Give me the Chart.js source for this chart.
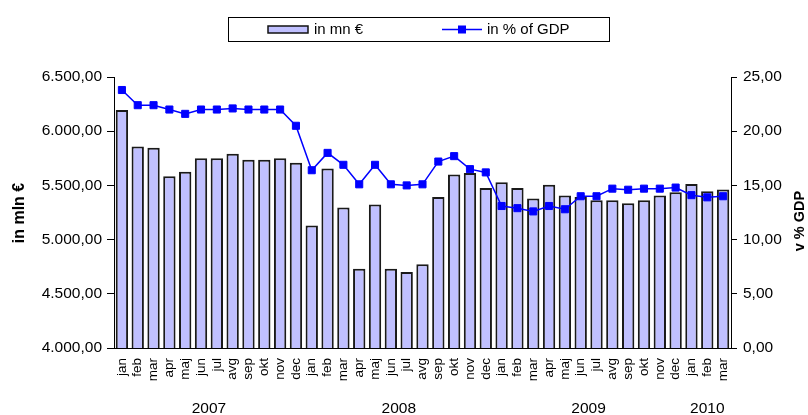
<!DOCTYPE html>
<html>
<head>
<meta charset="utf-8">
<script src="https://cdn.jsdelivr.net/npm/chart.js@4"></script>
<style>
  html, body { margin: 0; padding: 0; background: #fff; }
  canvas { display: block; }
</style>
</head>
<body>
<canvas id="debt" width="808" height="415"></canvas>
<script>
// Months (Slovenian abbreviations), Jan 2007 – Mar 2010
const monthLabels = [
  'jan','feb','mar','apr','maj','jun','jul','avg','sep','okt','nov','dec',
  'jan','feb','mar','apr','maj','jun','jul','avg','sep','okt','nov','dec',
  'jan','feb','mar','apr','maj','jun','jul','avg','sep','okt','nov','dec',
  'jan','feb','mar'
];

// Year groups shown under the month labels: [label, first index, last index]
const yearGroups = [
  ['2007', 0, 11],
  ['2008', 12, 23],
  ['2009', 24, 35],
  ['2010', 36, 38]
];

// Debt in million euro
const debtMnEur = [
  6195, 5860, 5848, 5584, 5627, 5750, 5750, 5793, 5737, 5737, 5750, 5710,
  5131, 5655, 5296, 4730, 5324, 4730, 4702, 4773, 5394, 5600, 5615, 5477,
  5529, 5477, 5379, 5505, 5407, 5394, 5364, 5364, 5336, 5364, 5407, 5437,
  5514, 5447, 5462
];

// Debt as a share of GDP (%)
const debtPctGdp = [
  23.8, 22.4, 22.4, 22.0, 21.6, 22.0, 22.0, 22.1, 22.0, 22.0, 22.0, 20.5,
  16.4, 18.0, 16.9, 15.1, 16.9, 15.1, 15.0, 15.1, 17.2, 17.7, 16.5, 16.2,
  13.1, 12.9, 12.6, 13.1, 12.8, 14.0, 14.0, 14.7, 14.6, 14.7, 14.7, 14.8,
  14.1, 13.9, 14.0
];

const FONT = '"Liberation Sans", Arial, sans-serif';
const BAR_FILL = '#c0c0ff';
const LINE_BLUE = '#0000ff';

// 6500 -> "6.500,00"
function fmt(v) {
  const [i, d] = Number(v).toFixed(2).split('.');
  return i.replace(/\B(?=(\d{3})+(?!\d))/g, '.') + ',' + d;
}

// Framed legend, rotated axis titles and the year row under the month labels
const decorations = {
  id: 'decorations',
  afterDraw(chart) {
    const ctx = chart.ctx;
    const x = chart.scales.x;
    ctx.save();

    // legend frame
    ctx.strokeStyle = '#000';
    ctx.lineWidth = 1;
    ctx.strokeRect(228.5, 17.5, 381, 24);

    // bar swatch
    ctx.fillStyle = BAR_FILL;
    ctx.fillRect(268, 26, 40, 7);
    ctx.lineWidth = 1.5;
    ctx.strokeStyle = '#111';
    ctx.strokeRect(268, 26, 40, 7);

    // line swatch with marker
    ctx.strokeStyle = LINE_BLUE;
    ctx.lineWidth = 1.5;
    ctx.beginPath();
    ctx.moveTo(442, 29.5);
    ctx.lineTo(482, 29.5);
    ctx.stroke();
    ctx.fillStyle = LINE_BLUE;
    ctx.fillRect(458, 25.5, 8, 8);

    ctx.fillStyle = '#000';
    ctx.font = '15px ' + FONT;
    ctx.textBaseline = 'middle';
    ctx.textAlign = 'left';
    ctx.fillText('in mn €', 314, 30);
    ctx.fillText('in % of GDP', 487, 30);

    // axis titles
    ctx.font = 'bold 16px ' + FONT;
    ctx.textAlign = 'center';
    ctx.save();
    ctx.translate(19.5, 213);
    ctx.rotate(-Math.PI / 2);
    ctx.fillText('in mln €', 0, 0);
    ctx.restore();

    ctx.font = 'bold 14.5px ' + FONT;
    ctx.save();
    ctx.translate(800, 221);
    ctx.rotate(-Math.PI / 2);
    ctx.fillText('v % GDP', 0, 0);
    ctx.restore();

    // year row
    ctx.font = '15.5px ' + FONT;
    ctx.textAlign = 'center';
    ctx.textBaseline = 'middle';
    yearGroups.forEach(([label, a, b]) => {
      const cx = (x.getPixelForValue(a) + x.getPixelForValue(b)) / 2;
      ctx.fillText(label, cx, 409);
    });

    ctx.restore();
  }
};

new Chart(document.getElementById('debt'), {
  data: {
    labels: monthLabels,
    datasets: [
      {
        type: 'bar',
        label: 'in mn €',
        data: debtMnEur,
        yAxisID: 'y',
        backgroundColor: BAR_FILL,
        borderColor: '#1a1a1a',
        borderWidth: 2,
        borderSkipped: false,
        barPercentage: 0.78,
        categoryPercentage: 1,
        order: 1
      },
      {
        type: 'line',
        label: 'in % of GDP',
        data: debtPctGdp,
        yAxisID: 'y1',
        borderColor: LINE_BLUE,
        borderWidth: 1.5,
        backgroundColor: LINE_BLUE,
        pointStyle: 'rect',
        pointRadius: 5,
        pointBorderWidth: 1,
        pointBackgroundColor: LINE_BLUE,
        pointBorderColor: LINE_BLUE,
        tension: 0,
        order: 0
      }
    ]
  },
  options: {
    responsive: false,
    animation: false,
    devicePixelRatio: 1,
    layout: { padding: { top: 77, left: 0, right: 0, bottom: 0 } },
    plugins: {
      legend: { display: false },
      tooltip: { enabled: false },
      title: { display: false }
    },
    scales: {
      x: {
        type: 'category',
        offset: true,
        grid: { drawOnChartArea: false, drawTicks: false },
        border: { display: true, color: '#000', width: 1 },
        ticks: {
          autoSkip: false,
          maxRotation: 90,
          minRotation: 90,
          padding: 10,
          color: '#000',
          font: { family: FONT, size: 13.5 }
        },
        afterFit(scale) { scale.height = 67; }
      },
      y: {
        type: 'linear',
        position: 'left',
        min: 4000,
        max: 6500,
        grid: { drawOnChartArea: false, drawTicks: true, tickLength: 7, tickColor: '#000' },
        border: { display: true, color: '#000', width: 1 },
        ticks: {
          stepSize: 500,
          padding: 5,
          color: '#000',
          font: { family: FONT, size: 15.5 },
          callback: v => fmt(v)
        },
        afterFit(scale) { scale.width = 114; }
      },
      y1: {
        type: 'linear',
        position: 'right',
        min: 0,
        max: 25,
        grid: { drawOnChartArea: false, drawTicks: true, tickLength: 6, tickColor: '#000' },
        border: { display: true, color: '#000', width: 1 },
        ticks: {
          stepSize: 5,
          padding: 6,
          color: '#000',
          font: { family: FONT, size: 15.5 },
          callback: v => fmt(v)
        },
        afterFit(scale) { scale.width = 77; }
      }
    }
  },
  plugins: [decorations]
});
</script>
</body>
</html>
